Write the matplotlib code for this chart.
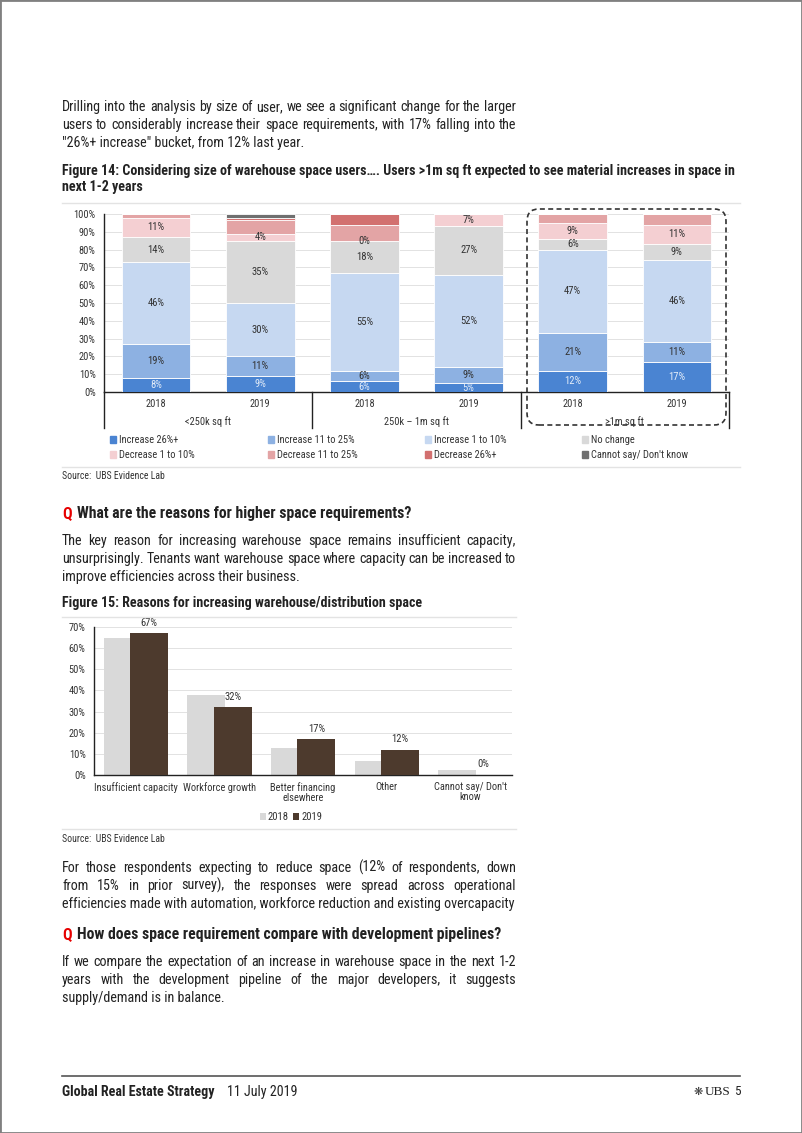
import numpy as np
import matplotlib
matplotlib.use('Agg')
import matplotlib.pyplot as plt
from matplotlib import font_manager
from matplotlib.patches import FancyBboxPatch, Rectangle, Patch
from matplotlib.lines import Line2D
from matplotlib.transforms import IdentityTransform, blended_transform_factory

# Figure 14 data (% of respondents, by size of user and survey year)
bar_years = ['2018', '2019', '2018', '2019', '2018', '2019']
size_groups = ['<250k sq ft', '250k \u2013 1m sq ft', '>1m sq ft']
series_names = ['Increase 26%+', 'Increase 11 to 25%', 'Increase 1 to 10%', 'No change',
                'Decrease 1 to 10%', 'Decrease 11 to 25%', 'Decrease 26%+',
                "Cannot say/ Don't know"]
inc_26 = [8, 9, 6, 5, 12, 17]
inc_11_25 = [19, 11, 6, 9, 21, 11]
inc_1_10 = [46, 30, 55, 52, 47, 46]
no_change = [14, 35, 18, 27, 6, 9]
dec_1_10 = [11, 4, 0, 7, 9, 11]
dec_11_25 = [2, 7.5, 9, 0, 5, 6]
dec_26 = [0, 1.5, 6, 0, 0, 0]
cannot_say = [0, 2, 0, 0, 0, 0]

# Figure 15 data
reasons = ['Insufficient capacity', 'Workforce growth', 'Better financing\nelsewhere',
           'Other', "Cannot say/ Don't\nknow"]
reasons_2018 = [65, 38, 13, 6.5, 2.5]
reasons_2019 = [67, 32, 17, 12, 0]

W, H = 802, 1133

# the original uses a condensed sans; take one if there is one
installed = {f.name for f in font_manager.fontManager.ttflist}
main_font = 'Liberation Sans'
for cand in ['Liberation Sans Narrow', 'Roboto Condensed', 'Open Sans Condensed',
             'Noto Sans Condensed', 'DejaVu Sans Condensed']:
    if cand in installed:
        main_font = cand
        break
else:
    for f in font_manager.fontManager.ttflist:
        if f.name in ('Noto Sans', 'Open Sans', 'Roboto', 'DejaVu Sans') and f.stretch in ('condensed', 'semi-condensed'):
            main_font = f.name
            plt.rcParams['font.stretch'] = f.stretch
            break
plt.rcParams['font.family'] = [main_font, 'DejaVu Sans']

fig = plt.figure(figsize=(W / 100, H / 100), dpi=100)
renderer = fig.canvas.get_renderer()


def put(x, y, s, **kw):
    return fig.text(x / W, 1 - y / H, s, va='baseline', **kw)


def text_width(s, **kw):
    t = put(0, 0, s, **kw)
    w = t.get_window_extent(renderer).width
    t.remove()
    return w


def fit_size(sample, target, **kw):
    # font size that gives the sample the width it has in the report
    return 10 * target / text_width(sample, fontsize=10, **kw)


TXT = '#222222'
body = dict(fontsize=fit_size('efficiencies made with automation, workforce reduction and existing overcapacity',
                              452), color=TXT)
title_kw = dict(fontsize=fit_size('Figure 15: Reasons for increasing warehouse/distribution space',
                                  359, fontweight='bold'), color=TXT, fontweight='bold')
q_kw = dict(fontsize=fit_size('What are the reasons for higher space requirements?', 335,
                              fontweight='bold'), color=TXT, fontweight='bold')
small = max(6.3, fit_size('Insufficient capacity', 80))


def paragraph(lines, y0, x0=62, x1=516, lh=18):
    for i, (line, justify) in enumerate(lines):
        y = y0 + i * lh
        if not justify:
            put(x0, y, line, **body)
            continue
        words = line.split()
        widths = [text_width(w, **body) for w in words]
        gap = (x1 - x0 - sum(widths)) / (len(words) - 1)
        x = x0
        for w, ww in zip(words, widths):
            put(x, y, w, **body)
            x += ww + gap


def hline(x0, x1, y, color, lw):
    fig.add_artist(Line2D([x0 / W, x1 / W], [1 - y / H, 1 - y / H],
                          transform=fig.transFigure, color=color, lw=lw))


def question(y, s):
    put(62, y, 'Q', fontsize=q_kw['fontsize'], color='#e60000', fontweight='bold')
    put(77, y, s, **q_kw)


# page border
fig.add_artist(Rectangle((0, 0), 1, 1, transform=fig.transFigure, fill=False,
                         ec='#808080', lw=2))

# ---- text blocks ----
paragraph([("Drilling into the analysis by size of user, we see a significant change for the larger", True),
           ("users to considerably increase their space requirements, with 17% falling into the", True),
           ('"26%+ increase" bucket, from 12% last year.', False)], 111)

put(62, 175, 'Figure 14: Considering size of warehouse space users\u2026. Users >1m sq ft expected to see '
             'material increases in space in', **title_kw)
put(62, 191, 'next 1-2 years', **title_kw)
hline(62, 740, 203, '#e3e3e3', 1)

# ---- Figure 14: stacked bars ----
ax1 = fig.add_axes([104 / W, 1 - 392 / H, 625 / W, 178 / H])
stack = [inc_26, inc_11_25, inc_1_10, no_change, dec_1_10, dec_11_25, dec_26, cannot_say]
colors1 = ['#4a84d2', '#8db1e2', '#c6d8f1', '#d9d9d9', '#f4cfd2', '#e3a4a5', '#d2706f', '#6f6f6f']
xpos = np.arange(len(bar_years))
bottom = np.zeros(len(bar_years))
for k, (name, vals, col) in enumerate(zip(series_names, stack, colors1)):
    vals = np.array(vals, dtype=float)
    ax1.bar(xpos, vals, 0.66, bottom=bottom, color=col, edgecolor='white', linewidth=0.6,
            label=name, zorder=3)
    if k <= 4:
        for xi, b, v in zip(xpos, bottom, vals):
            if k < 4 and v == 0:
                continue
            ax1.text(xi, b + v / 2, f'{v:.0f}%', ha='center', va='center', fontsize=small + 0.4,
                     color='#e3ecf8' if k == 0 else '#333333', zorder=4)
    bottom += vals

ax1.set_xlim(-0.5, 5.5)
ax1.set_ylim(0, 100)
ax1.set_yticks(np.arange(0, 101, 10))
ax1.set_yticklabels([f'{v}%' for v in range(0, 101, 10)])
ax1.set_xticks(xpos)
ax1.set_xticklabels(bar_years)
ax1.tick_params(length=0, labelsize=small + 0.2, colors='#333333')
ax1.tick_params(axis='y', pad=6)
ax1.tick_params(axis='x', pad=5)
ax1.grid(axis='y', color='#e2e2e2', lw=0.7, zorder=0)
for s in ['top', 'right']:
    ax1.spines[s].set_visible(False)
for s in ['left', 'bottom']:
    ax1.spines[s].set_color('#222222')
    ax1.spines[s].set_linewidth(1)

trans = blended_transform_factory(ax1.transData, ax1.transAxes)
for g, name in enumerate(size_groups):
    ax1.text(2 * g + 0.5, -0.165, name, transform=trans, ha='center', va='center',
             fontsize=small + 0.2, color='#333333')
for xs in [-0.5, 1.5, 3.5, 5.5]:
    ax1.plot([xs, xs], [0, -0.2], transform=trans, color='#222222', lw=1, clip_on=False)

# dashed highlight round the >1m group
fig.add_artist(FancyBboxPatch((527, H - 425), 199, 216, boxstyle='round,pad=0,rounding_size=12',
                              transform=IdentityTransform(), fill=False, ec='#333333',
                              lw=1.2, ls=(0, (3, 2))))

handles = [Patch(color=c) for c in colors1]
for c, lx in enumerate([110, 268, 425, 582]):
    leg = fig.legend([handles[c], handles[c + 4]], [series_names[c], series_names[c + 4]],
                     loc='upper left', bbox_to_anchor=(lx / W, 1 - 435 / H), frameon=False,
                     fontsize=small + 0.2, handlelength=0.6, handleheight=0.6, handletextpad=0.25,
                     labelspacing=0.5, borderpad=0, borderaxespad=0)
    for t in leg.get_texts():
        t.set_color('#333333')

hline(62, 740, 467, '#e3e3e3', 1)
put(62, 479, 'Source:  UBS Evidence Lab', fontsize=small - 0.2, color='#333333')

question(518, 'What are the reasons for higher space requirements?')
paragraph([("The key reason for increasing warehouse space remains insufficient capacity,", True),
           ("unsurprisingly. Tenants want warehouse space where capacity can be increased to", True),
           ("improve efficiencies across their business.", False)], 545)

put(62, 607, 'Figure 15: Reasons for increasing warehouse/distribution space', **title_kw)
hline(62, 516, 617, '#e3e3e3', 1)

# ---- Figure 15: clustered bars ----
ax2 = fig.add_axes([94 / W, 1 - 775 / H, 418 / W, 148 / H])
x2 = np.arange(len(reasons))
ax2.bar(x2 - 0.155, reasons_2018, 0.455, color='#d9d9d9', label='2018', zorder=2)
bars19 = ax2.bar(x2 + 0.16, reasons_2019, 0.455, color='#4d3a2d', label='2019', zorder=3)
for b, v in zip(bars19, reasons_2019):
    ax2.annotate(f'{v:.0f}%', (b.get_x() + b.get_width() / 2, v), xytext=(0, 4),
                 textcoords='offset points', ha='center', va='bottom', fontsize=small + 0.4,
                 color='#333333', zorder=4)
ax2.set_xlim(-0.5, 4.5)
ax2.set_ylim(0, 70)
ax2.set_yticks(np.arange(0, 71, 10))
ax2.set_yticklabels([f'{v}%' for v in range(0, 71, 10)])
ax2.set_xticks(x2)
ax2.set_xticklabels(reasons, linespacing=1.05)
ax2.tick_params(length=0, labelsize=small + 0.2, colors='#333333')
ax2.tick_params(axis='y', pad=6)
ax2.tick_params(axis='x', pad=5)
ax2.grid(axis='y', color='#e2e2e2', lw=0.7, zorder=0)
for s in ['top', 'right']:
    ax2.spines[s].set_visible(False)
for s in ['left', 'bottom']:
    ax2.spines[s].set_color('#222222')
    ax2.spines[s].set_linewidth(1)

h2, l2 = ax2.get_legend_handles_labels()
leg2 = fig.legend(h2, l2, loc='center', bbox_to_anchor=(291 / W, 1 - 817 / H), ncol=2,
                  frameon=False, fontsize=small + 0.4, handlelength=0.6, handleheight=0.6,
                  handletextpad=0.15, columnspacing=0.4, borderpad=0)
for t in leg2.get_texts():
    t.set_color('#333333')

hline(62, 516, 829, '#e3e3e3', 1)
put(62, 842, 'Source:  UBS Evidence Lab', fontsize=small - 0.2, color='#333333')

paragraph([("For those respondents expecting to reduce space (12% of respondents, down", True),
           ("from 15% in prior survey), the responses were spread across operational", True),
           ("efficiencies made with automation, workforce reduction and existing overcapacity", False)], 872)

question(939, 'How does space requirement compare with development pipelines?')
paragraph([("If we compare the expectation of an increase in warehouse space in the next 1-2", True),
           ("years with the development pipeline of the major developers, it suggests", True),
           ("supply/demand is in balance.", False)], 966)

# ---- footer ----
hline(62, 740, 1076, '#555555', 1.2)
foot = fit_size('Global Real Estate Strategy', 153, fontweight='bold')
put(62, 1096, 'Global Real Estate Strategy', fontsize=foot, color=TXT, fontweight='bold')
put(227, 1096, '11 July 2019', fontsize=foot, color=TXT)
put(694, 1095, '\u274b', fontsize=8, color='#333333', family='DejaVu Sans')
put(705, 1095, 'UBS', fontsize=9.5, color=TXT, family='Liberation Serif')
put(734, 1095, '5', fontsize=9.5, color=TXT)

fig.savefig('out.png', dpi=100)
